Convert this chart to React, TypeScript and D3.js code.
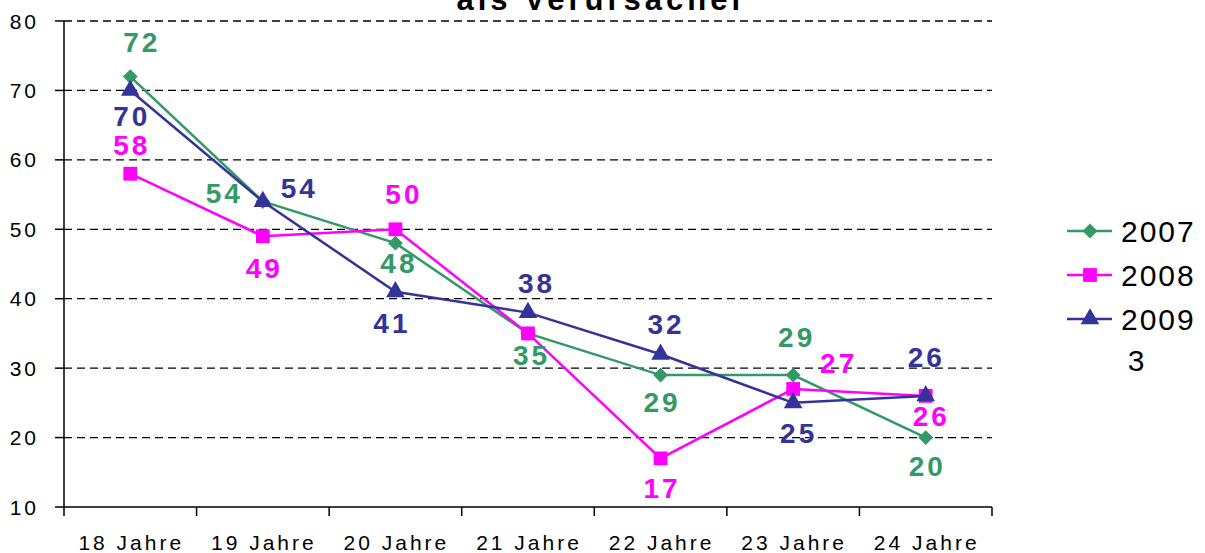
import * as d3 from 'd3';

const categories = ['18 Jahre', '19 Jahre', '20 Jahre', '21 Jahre', '22 Jahre', '23 Jahre', '24 Jahre'];
const years = ['2007', '2008', '2009'];
const values2007 = [72, 54, 48, 35, 29, 29, 20];
const values2008 = [58, 49, 50, 35, 17, 27, 26];
const values2009 = [70, 54, 41, 38, 32, 25, 26];
const yTicks = [10, 20, 30, 40, 50, 60, 70, 80];

// label offsets (dx, dy) from the point, null = label hidden behind another one
const offs2007: ([number, number] | null)[] = [[10, -34], [-40, -8], [2, 20], [2, 22], [0, 27], [2, -38], [0, 29]];
const offs2008: ([number, number] | null)[] = [[0, -28], [0, 32], [7, -35], null, [0, 30], [44, -25], [4, 21]];
const offs2009: ([number, number] | null)[] = [[0, 26], [35, -13], [-5, 32], [7, -29], [4, -30], [4, 31], [-1, -38]];

const series = [
  { name: years[0], values: values2007, offs: offs2007, color: '#339966', shape: d3.symbolSquare, size: 110, rot: 45 },
  { name: years[1], values: values2008, offs: offs2008, color: '#ff00ff', shape: d3.symbolSquare, size: 190, rot: 0 },
  { name: years[2], values: values2009, offs: offs2009, color: '#333399', shape: d3.symbolTriangle, size: 150, rot: 0 },
];

export default function App() {
  const width = 1205, height = 553;
  const left = 64, right = 992, top = 21, bottom = 507;

  const x = d3.scaleBand().domain(categories).range([left, right]);
  const y = d3.scaleLinear().domain([10, 80]).range([bottom, top]);
  const cx = (c: string) => (x(c) as number) + x.bandwidth() / 2;

  const font = '"Liberation Sans", Arial, sans-serif';

  return (
    <svg width={width} height={height} style={{ position: 'absolute', left: 0, top: 0 }} fontFamily={font}>
      <rect width={width} height={height} fill="white" />
      <text x={602} y={10} textAnchor="middle" fontSize={31} fontWeight="bold" letterSpacing={4}>als Verursacher</text>

      {yTicks.map(t => (
        <g key={t}>
          {t > 10 && <line x1={left} x2={right} y1={y(t)} y2={y(t)} stroke="black" strokeWidth={1.3} strokeDasharray="8,5" />}
          <line x1={left - 9} x2={left} y1={y(t)} y2={y(t)} stroke="black" strokeWidth={1.5} />
          <text x={39} y={y(t)} textAnchor="end" dominantBaseline="central" fontSize={21} letterSpacing={3}>{t}</text>
        </g>
      ))}
      <line x1={left} x2={left} y1={top} y2={bottom} stroke="black" strokeWidth={1.5} />
      <line x1={left} x2={right} y1={bottom} y2={bottom} stroke="black" strokeWidth={1.5} />
      {categories.map(c => (
        <line key={'t' + c} x1={x(c) as number} x2={x(c) as number} y1={bottom} y2={bottom + 9} stroke="black" strokeWidth={1.5} />
      ))}
      <line x1={right} x2={right} y1={bottom} y2={bottom + 9} stroke="black" strokeWidth={1.5} />
      {categories.map(c => (
        <text key={c} x={cx(c) + 1} y={550} textAnchor="middle" fontSize={21} letterSpacing={3}>{c}</text>
      ))}

      {series.map(s => {
        const line = d3.line<number>().x((_, i) => cx(categories[i])).y(v => y(v));
        const sym = d3.symbol().type(s.shape).size(s.size)();
        return (
          <g key={s.name}>
            <path d={line(s.values) || ''} fill="none" stroke={s.color} strokeWidth={2.5} />
            {s.values.map((v, i) => (
              <path key={i} d={sym || ''} transform={`translate(${cx(categories[i])},${y(v)}) rotate(${s.rot})`} fill={s.color} />
            ))}
          </g>
        );
      })}
      {series.map(s => (
        <g key={'l' + s.name}>
          {s.values.map((v, i) => {
            const o = s.offs[i];
            if (!o) return null;
            return (
              <text key={i} x={cx(categories[i]) + o[0] + 1.5} y={y(v) + o[1]} textAnchor="middle" dominantBaseline="central"
                fontSize={28} fontWeight="bold" letterSpacing={3} fill={s.color}>{v}</text>
            );
          })}
        </g>
      ))}

      {series.map((s, i) => {
        const ly = 231 + i * 44;
        const sym = d3.symbol().type(s.shape).size(s.size)();
        return (
          <g key={'lg' + s.name}>
            <line x1={1067} x2={1112} y1={ly} y2={ly} stroke={s.color} strokeWidth={2.5} />
            <path d={sym || ''} transform={`translate(1090,${ly}) rotate(${s.rot})`} fill={s.color} />
            <text x={1121} y={ly} dominantBaseline="central" fontSize={30} letterSpacing={2}>{s.name}</text>
          </g>
        );
      })}
      <text x={1136} y={360} textAnchor="middle" dominantBaseline="central" fontSize={30}>3</text>
    </svg>
  );
}
